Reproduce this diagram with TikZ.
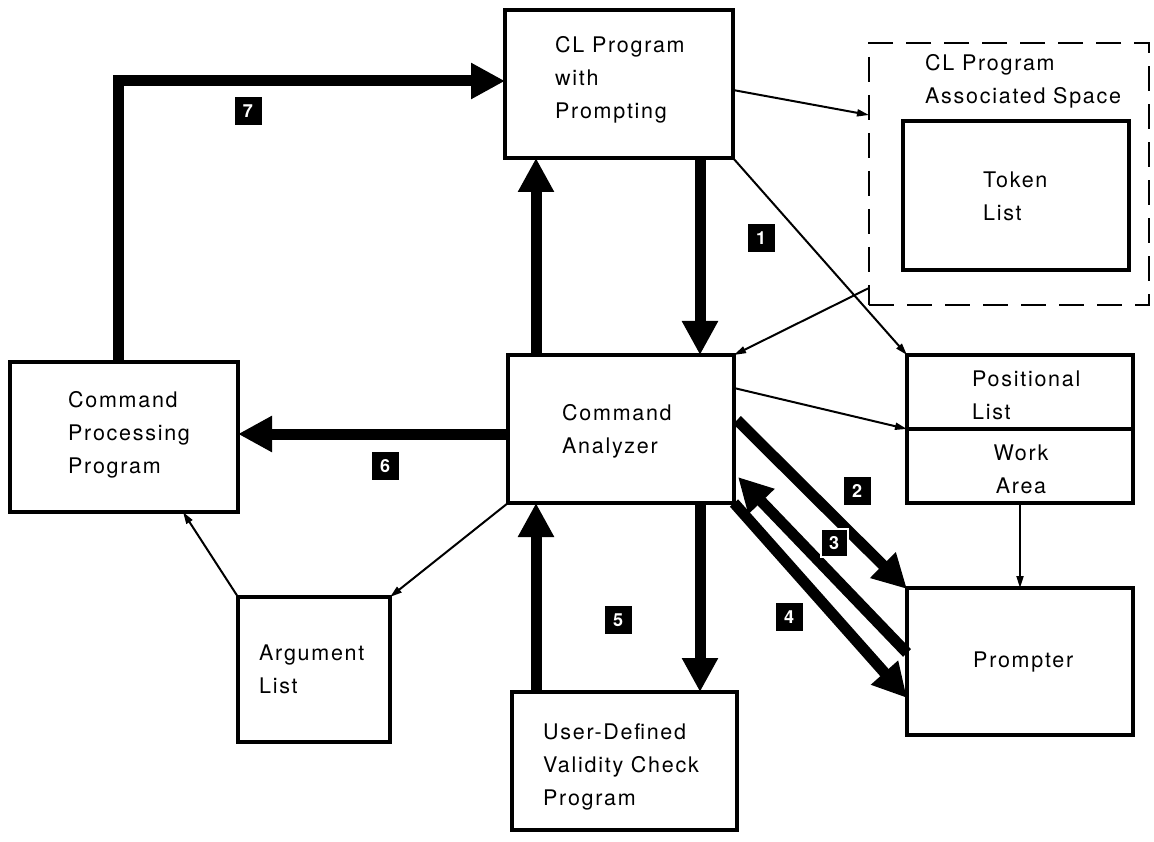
\documentclass[tikz,border=0pt]{standalone}
\usepackage{fontspec}
\setmainfont{TeX Gyre Heros}[LetterSpace=8]
\usetikzlibrary{arrows.meta,calc}

\begin{document}
\begin{tikzpicture}[x=1pt,y=-1pt,
  box/.style={draw, line width=3.5pt, inner sep=0pt, outer sep=0pt},
  dashbox/.style={draw, line width=2.5pt, dash pattern=on 25pt off 13pt, inner sep=0pt, outer sep=0pt},
  lbl/.style={anchor=west, inner sep=0pt, align=left, font=\fontsize{21.5}{33}\selectfont},
  bigarrow/.style={line width=11pt, -{Triangle[length=34pt,width=34pt]}},
  link/.style={line width=2pt, -{Triangle[length=12pt,width=7pt]}},
  num/.style={fill=black, text=white, minimum width=27pt, minimum height=28pt,
    inner sep=0pt, font=\fontsize{18}{18}\selectfont\bfseries},
]
\useasboundingbox[fill=white] (0,0) rectangle (1154,842);

% boxes
\node[box, minimum width=228pt, minimum height=148pt] (cl) at (619,84) {};
\node[dashbox, minimum width=280pt, minimum height=262pt] (space) at (1009,174) {};
\node[box, minimum width=226pt, minimum height=149pt] (token) at (1016,195.5) {};
\node[box, minimum width=226pt, minimum height=148pt] (pos) at (1020,429) {};
\node[box, minimum width=226pt, minimum height=147pt] (prompter) at (1020,661.5) {};
\node[box, minimum width=226pt, minimum height=148pt] (ca) at (621,429) {};
\node[box, minimum width=228pt, minimum height=150pt] (cpp) at (124,437) {};
\node[box, minimum width=152pt, minimum height=145pt] (arg) at (314,669.5) {};
\node[box, minimum width=225pt, minimum height=138pt] (ud) at (624.5,761) {};
\draw[line width=3.5pt] (pos.west) -- (pos.east);

% box texts
\node[lbl] (tcl) at (555,80) {CL Program\\with\\Prompting};
\node[lbl] (tspace) at (925,81.5) {CL Program\\Associated Space};
\node[lbl] (ttoken) at (983,196.5) {Token\\List};
\node[lbl] (tpos) at (972,395.5) {Positional\\List};
\node[lbl, anchor=center, align=center] (twork) at (1021,469) {Work\\Area};
\node[lbl] (tprompter) at (973,662) {Prompter};
\node[lbl] (tca) at (562,431) {Command\\Analyzer};
\node[lbl] (tcpp) at (68,435) {Command\\Processing\\Program};
\node[lbl] (targ) at (259,669) {Argument\\List};
\node[lbl] (tud) at (543,767) {User-Defined\\Validity Check\\Program};

% heavy flows
\draw[bigarrow] ($(cpp.north west)+(108,0)$) |- ($(cl.north west)+(0,71)$);
\draw[bigarrow] ($(ca.north west)+(28,0)$) -- ($(cl.south west)+(31,0)$);
\draw[bigarrow] ($(cl.south west)+(195,0)$) -- ($(ca.north west)+(192,0)$);
\draw[bigarrow] ($(ca.west)+(0,5)$) -- ($(cpp.east)+(0,-3)$);
\draw[bigarrow] ($(ud.north west)+(24,0)$) -- ($(ca.south west)+(28,0)$);
\draw[bigarrow] ($(ca.south west)+(192,0)$) -- ($(ud.north west)+(188,0)$);
\draw[bigarrow] ($(ca.north east)+(3,65)$) -- ($(prompter.north west)+(0,1)$);
\draw[bigarrow] ($(prompter.north west)+(0,65)$) -- ($(ca.north east)+(4,122)$);
\draw[bigarrow] (ca.south east) -- ($(prompter.north west)+(0,110)$);

% thin references
\draw[link] ($(cl.north east)+(0,80)$) -- ($(space.north west)+(0,72)$);
\draw[link] (cl.south east) -- (pos.north west);
\draw[link] ($(space.south west)+(0,-17)$) -- (ca.north east);
\draw[link] ($(ca.north east)+(0,33)$) -- (pos.west);
\draw[link] ($(pos.south west)+(113,0)$) -- ($(prompter.north west)+(113,0)$);
\draw[link] (ca.south west) -- (arg.north east);
\draw[link] (arg.north west) -- ($(cpp.south west)+(173,0)$);

% step numbers
\node[num] (n1) at (761,238) {1};
\node[num] (n2) at (857,491) {2};
\node[num, draw=white, line width=2pt] (n3) at (834,543) {3};
\node[num] (n4) at (789,617) {4};
\node[num] (n5) at (618,620) {5};
\node[num] (n6) at (385,466) {6};
\node[num] (n7) at (248,111) {7};
\end{tikzpicture}
\end{document}
